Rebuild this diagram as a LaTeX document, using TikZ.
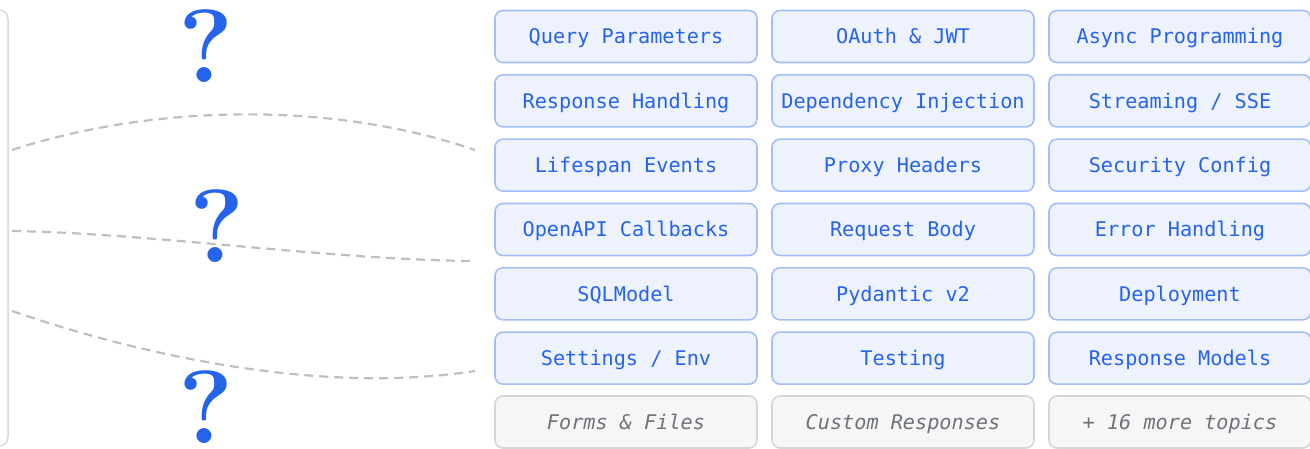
\documentclass[tikz,border=0pt]{standalone}
\usepackage{fontspec}
\newfontfamily\codefont{DejaVu Sans Mono}
\definecolor{topicblue}{HTML}{2563EB}
\definecolor{topicfill}{HTML}{EEF2FD}
\definecolor{topicedge}{HTML}{A3BEF6}
\definecolor{morefill}{HTML}{F5F6F5}
\definecolor{moreedge}{HTML}{D5D6D6}
\definecolor{moretext}{HTML}{6E737B}
\definecolor{paneledge}{HTML}{D9D9D9}
\definecolor{linkgray}{HTML}{BDBFC2}
\tikzset{
  topic/.style={draw=topicedge, fill=topicfill, line width=1.6pt, rounded corners=8pt,
    minimum width=262pt, minimum height=52pt, inner sep=0pt,
    text height=14.6pt, text depth=0pt,
    text=topicblue, font=\codefont\fontsize{20.2}{24}\selectfont},
  moretopic/.style={topic, draw=moreedge, fill=morefill, text=moretext,
    font=\codefont\itshape\fontsize{20.2}{24}\selectfont},
  qmark/.style={anchor=base, inner sep=0pt, text=topicblue, font=\bfseries\fontsize{104}{108}\selectfont},
  link/.style={draw=linkgray, line width=2.2pt, dash pattern=on 9pt off 6pt},
  panel/.style={draw=paneledge, line width=1.5pt, rounded corners=9pt}
}
\begin{document}
\begin{tikzpicture}[x=1pt, y=-1pt]
\useasboundingbox (0,0) rectangle (1310,448);

% panel on the left, mostly out of frame
\node[panel, minimum width=60pt, minimum height=436pt, inner sep=0pt] (panel) at (-22,228) {};

% topic grid
\foreach \txt [count=\i from 0] in {
  Query Parameters, OAuth \& JWT, Async Programming,
  Response Handling, Dependency Injection, Streaming / SSE,
  Lifespan Events, Proxy Headers, Security Config,
  OpenAPI Callbacks, Request Body, Error Handling,
  SQLModel, Pydantic v2, Deployment,
  Settings / Env, Testing, Response Models} {
  \pgfmathtruncatemacro\row{int(\i/3)}
  \pgfmathtruncatemacro\col{mod(\i,3)}
  \node[topic] (t\i) at ({626+\col*277}, {36.5+\row*64.33}) {\txt};
}
\node[moretopic] (m0) at (626,422) {Forms \& Files};
\node[moretopic] (m1) at (903,422) {Custom Responses};
\node[moretopic] (m2) at (1180,422) {+ 16 more topics};

% question marks
\node[qmark] (q1) at (206,82) {?};
\node[qmark] (q2) at (217,262) {?};
\node[qmark] (q3) at (206,443) {?};

% loose dashed links
\coordinate (a1) at (12,150);
\coordinate (b1) at (475,150);
\coordinate (a2) at (12,231);
\coordinate (b2) at (475,261);
\coordinate (a3) at (12,311);
\coordinate (b3) at (475,371);
\draw[link] (a1) .. controls (150,105) and (330,100) .. (b1);
\draw[link] (a2) .. controls (150,233) and (330,260) .. (b2);
\draw[link] (a3) .. controls (140,355) and (320,395) .. (b3);
\end{tikzpicture}
\end{document}
